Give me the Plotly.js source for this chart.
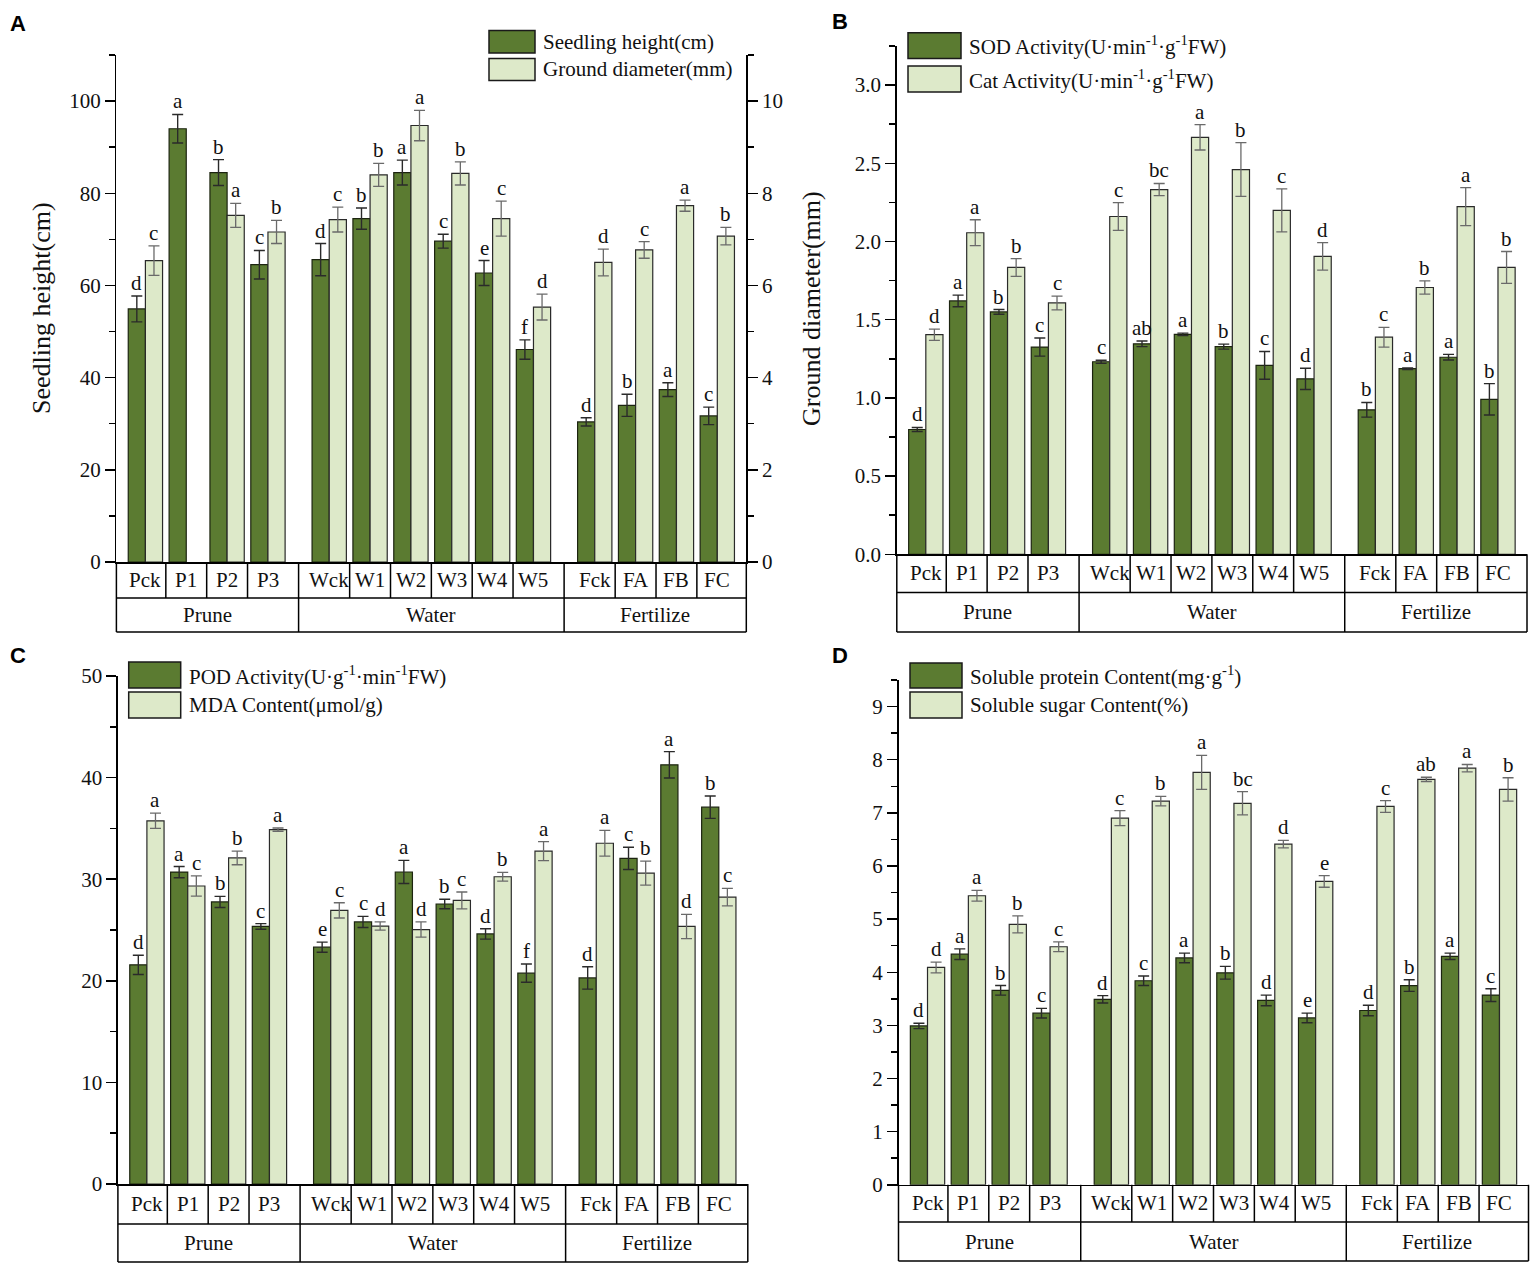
<!DOCTYPE html>
<html><head><meta charset="utf-8">
<script src="https://cdn.plot.ly/plotly-3.0.1.min.js"></script>
<style>body{margin:0;background:#fff}#chart{width:1535px;height:1267px}</style>
</head><body><div id="chart"></div>
<script>
const W = 1535, H = 1267;

// ---------- data ----------
const categories = ['Pck','P1','P2','P3','Wck','W1','W2','W3','W4','W5','Fck','FA','FB','FC'];
const groupNames = ['Prune','Water','Fertilize'];
const groupOf = [0,0,0,0,1,1,1,1,1,1,2,2,2,2];

// Panel A
const heightVals = [54.9,94.0,84.5,64.5,65.6,74.5,84.5,69.6,62.7,46.1,30.4,34.0,37.4,31.7];
const heightErr  = [2.8,3.1,2.8,3.1,3.5,2.3,2.7,1.5,2.7,2.1,0.9,2.4,1.5,1.9];
const heightSig  = ['d','a','b','c','d','b','a','c','e','f','d','b','a','c'];
const diamVals   = [6.54,null,7.52,7.16,7.43,8.40,9.47,8.43,7.45,5.53,6.50,6.77,7.73,7.07];
const diamErr    = [0.32,null,0.26,0.25,0.27,0.25,0.33,0.25,0.38,0.28,0.29,0.18,0.12,0.19];
const diamSig    = ['c','','a','b','c','b','a','b','c','d','d','c','a','b'];

// Panel B
const sodVals = [0.798,1.620,1.550,1.325,1.231,1.346,1.406,1.328,1.208,1.122,0.924,1.187,1.260,0.991];
const sodErr  = [0.013,0.037,0.015,0.058,0.010,0.018,0.008,0.016,0.089,0.068,0.047,0.005,0.018,0.100];
const sodSig  = ['d','a','b','c','c','ab','a','b','c','d','b','a','a','b'];
const catVals = [1.404,2.056,1.834,1.607,2.160,2.332,2.666,2.460,2.199,1.905,1.388,1.706,2.223,1.834];
const catErr  = [0.036,0.083,0.057,0.044,0.089,0.039,0.081,0.172,0.138,0.088,0.063,0.042,0.122,0.102];
const catSig  = ['d','a','b','c','c','bc','a','b','c','d','c','b','a','b'];

// Panel C
const podVals = [21.57,30.70,27.76,25.35,23.31,25.79,30.71,27.56,24.61,20.75,20.28,32.05,41.26,37.09];
const podErr  = [0.95,0.55,0.55,0.28,0.50,0.55,1.14,0.47,0.51,0.90,1.10,1.10,1.30,1.10];
const podSig  = ['d','a','b','c','e','c','a','b','d','f','d','c','a','b'];
const mdaVals = [35.75,29.33,32.09,34.88,26.93,25.39,25.04,27.91,30.24,32.76,33.54,30.59,25.35,28.23];
const mdaErr  = [0.75,1.00,0.67,0.16,0.75,0.40,0.75,0.83,0.43,0.94,1.26,1.18,1.19,0.86];
const mdaSig  = ['a','c','b','a','c','d','d','c','b','a','a','b','d','c'];

// Panel D
const proteinVals = [2.99,4.34,3.66,3.23,3.49,3.84,4.27,3.99,3.47,3.14,3.28,3.75,4.30,3.57];
const proteinErr  = [0.05,0.10,0.09,0.09,0.07,0.09,0.09,0.12,0.10,0.09,0.10,0.11,0.06,0.12];
const proteinSig  = ['d','a','b','c','d','c','a','b','d','e','d','b','a','c'];
const sugarVals = [4.09,5.44,4.90,4.48,6.90,7.22,7.76,7.18,6.41,5.71,7.12,7.63,7.84,7.44];
const sugarErr  = [0.10,0.10,0.16,0.09,0.14,0.09,0.32,0.22,0.07,0.11,0.11,0.04,0.07,0.22];
const sugarSig  = ['d','a','b','c','c','b','a','bc','d','e','c','ab','a','b'];

// ---------- style ----------
const DARK = '#5b7b31', LIGHT = '#dde9c9';
const SERIF = 'Liberation Serif, Times New Roman, serif';
const SANS = 'Liberation Sans, Arial, sans-serif';
const px = v => v / W;
const py = v => 1 - v / H;

// x positions derived from category order and group membership (extra half gap between groups)
const xpos = categories.map((c, i) => i + 0.5 * groupOf[i]);
const XR = [-0.71, 14.71];

const panels = [
  { label:'A', lx:18, ly:23, xa:'x', ya:'y', ya2:'y2', L:116.4, R:746.3, T:55, B:562, r1:598, r2:632,
    range:[0,110], dtick:20, minor:10, fmt:'', range2:[0,11], dtick2:2, minor2:1,
    ytitle:'Seedling height(cm)', tx:41, ty:308,
    dark:heightVals, darkErr:heightErr, darkSig:heightSig,
    light:diamVals, lightErr:diamErr, lightSig:diamSig,
    leg:{x0:489,x1:535, y:[[30.6,53],[58.4,80.4]], tx:541},
    names:['Seedling height(cm)','Ground diameter(mm)'] },
  { label:'B', lx:840, ly:22, xa:'x2', ya:'y3', L:896.8, R:1527, T:46, B:554.3, r1:592.6, r2:632,
    range:[0,3.25], dtick:0.5, minor:0.25, fmt:'.1f',
    ytitle:'Ground diameter(mm)', tx:812, ty:309,
    dark:sodVals, darkErr:sodErr, darkSig:sodSig,
    light:catVals, lightErr:catErr, lightSig:catSig,
    leg:{x0:908,x1:961, y:[[32.7,58.4],[66,92]], tx:967},
    names:['SOD Activity(U·min<sup>-1</sup>·g<sup>-1</sup>FW)','Cat Activity(U·min<sup>-1</sup>·g<sup>-1</sup>FW)'] },
  { label:'C', lx:18, ly:656, xa:'x3', ya:'y4', L:117.9, R:747.8, T:676, B:1184, r1:1224, r2:1262,
    range:[0,50], dtick:10, minor:5, fmt:'',
    dark:podVals, darkErr:podErr, darkSig:podSig,
    light:mdaVals, lightErr:mdaErr, lightSig:mdaSig,
    leg:{x0:128.7,x1:180.7, y:[[662,688],[692,718]], tx:187},
    names:['POD Activity(U·g<sup>-1</sup>·min<sup>-1</sup>FW)','MDA Content(μmol/g)'] },
  { label:'D', lx:840, ly:656, xa:'x4', ya:'y5', L:898.5, R:1528.5, T:680, B:1184.8, r1:1222, r2:1261,
    range:[0,9.5], dtick:1, minor:0.5, fmt:'',
    dark:proteinVals, darkErr:proteinErr, darkSig:proteinSig,
    light:sugarVals, lightErr:sugarErr, lightSig:sugarSig,
    leg:{x0:910,x1:962, y:[[663,688],[692,718]], tx:968},
    names:['Soluble protein Content(mg·g<sup>-1</sup>)','Soluble sugar Content(%)'] }
];

const traces = [], shapes = [], annotations = [];
const layout = {
  width: W, height: H, margin:{l:0,r:0,t:0,b:0},
  paper_bgcolor:'#fff', plot_bgcolor:'rgba(0,0,0,0)',
  barmode:'overlay', showlegend:false,
  font:{family:SERIF, size:21, color:'#111'},
  shapes, annotations
};

const axName = id => id.length === 1 ? id + 'axis' : id[0] + 'axis' + id.slice(1);

function yAxisDef(domain, range, dtick, minor, fmt, extra) {
  return Object.assign({
    domain, range, dtick, tick0:0, tickformat:fmt,
    showline:true, linecolor:'#000', linewidth:1.5,
    ticks:'outside', ticklen:10, tickwidth:1.5, tickcolor:'#000',
    minor:{dtick:minor, ticks:'outside', ticklen:6, tickwidth:1.5, tickcolor:'#000'},
    showgrid:false, zeroline:false,
    tickfont:{family:SERIF, size:21, color:'#111'}, fixedrange:true
  }, extra);
}

const txt = (o) => Object.assign({showarrow:false, xanchor:'center', yanchor:'middle',
  font:{family:SERIF, size:21, color:'#111'}}, o);

panels.forEach(p => {
  const xdom = [px(p.L), px(p.R)];
  const ydom = [py(p.B), py(p.T)];
  layout[axName(p.xa)] = {
    domain: xdom, range: XR, anchor: p.ya, showline:true, linecolor:'#000', linewidth:1.5,
    ticks:'', showticklabels:false, showgrid:false, zeroline:false, fixedrange:true
  };
  layout[axName(p.ya)] = yAxisDef(ydom, p.range, p.dtick, p.minor, p.fmt, {anchor:p.xa});
  if (p.ya2) {
    layout[axName(p.ya2)] = yAxisDef(ydom, p.range2, p.dtick2, p.minor2, '',
      {anchor:p.xa, overlaying:p.ya, side:'right'});
  }
  const lightAxis = p.ya2 || p.ya;

  traces.push({
    type:'bar', x:xpos, y:p.dark, xaxis:p.xa, yaxis:p.ya, offset:-0.42, width:0.42,
    marker:{color:DARK, line:{color:'#1c2410', width:1.2}},
    error_y:{type:'data', array:p.darkErr, visible:true, color:'#2a2a2a', thickness:1.4, width:5.5},
    hoverinfo:'skip'
  });
  traces.push({
    type:'bar', x:xpos, y:p.light, xaxis:p.xa, yaxis:lightAxis, offset:0, width:0.42,
    marker:{color:LIGHT, line:{color:'#2a2a2a', width:1.2}},
    error_y:{type:'data', array:p.lightErr, visible:true, color:'#6a6a6a', thickness:1.3, width:5.5},
    hoverinfo:'skip'
  });

  // significance letters
  xpos.forEach((x, i) => {
    if (p.dark[i] != null && p.darkSig[i]) {
      annotations.push(txt({xref:p.xa, yref:p.ya, x:x-0.21, y:p.dark[i]+p.darkErr[i], text:p.darkSig[i],
        yanchor:'bottom', yshift:-1}));
    }
    if (p.light[i] != null && p.lightSig[i]) {
      annotations.push(txt({xref:p.xa, yref:lightAxis, x:x+0.21, y:p.light[i]+p.lightErr[i], text:p.lightSig[i],
        yanchor:'bottom', yshift:-1}));
    }
  });

  // category table
  const line = {color:'#000', width:1.5};
  [p.r1, p.r2].forEach(yy => shapes.push({type:'line', xref:'paper', yref:'paper',
    x0:px(p.L), x1:px(p.R), y0:py(yy), y1:py(yy), line}));
  [p.L, p.R].forEach(xx => shapes.push({type:'line', xref:'paper', yref:'paper',
    x0:px(xx), x1:px(xx), y0:py(p.B), y1:py(p.r2), line}));
  for (let i = 0; i < xpos.length - 1; i++) {
    const b = (xpos[i] + xpos[i+1]) / 2;
    const groupEdge = groupOf[i] !== groupOf[i+1];
    shapes.push({type:'line', xref:p.xa, yref:'paper', x0:b, x1:b,
      y0:py(p.B), y1:py(groupEdge ? p.r2 : p.r1), line});
  }
  categories.forEach((c, i) => annotations.push(txt({xref:p.xa, yref:'paper', x:xpos[i],
    y:py((p.B+p.r1)/2), text:c})));
  groupNames.forEach((g, gi) => {
    const idx = groupOf.map((v, i) => v === gi ? i : -1).filter(i => i >= 0);
    const first = idx[0], last = idx[idx.length-1];
    const lo = first === 0 ? XR[0] : (xpos[first] + xpos[first-1]) / 2;
    const hi = last === xpos.length-1 ? XR[1] : (xpos[last] + xpos[last+1]) / 2;
    annotations.push(txt({xref:p.xa, yref:'paper', x:(lo+hi)/2, y:py((p.r1+p.r2)/2), text:g}));
  });

  if (p.ytitle) {
    annotations.push(txt({xref:'paper', yref:'paper', x:px(p.tx), y:py(p.ty), text:p.ytitle, textangle:-90,
      font:{family:SERIF, size:26, color:'#111'}}));
  }
  annotations.push(txt({xref:'paper', yref:'paper', x:px(p.lx), y:py(p.ly), text:'<b>'+p.label+'</b>',
    font:{family:SANS, size:22, color:'#000'}}));

  const fills = [DARK, LIGHT];
  p.leg.y.forEach((yy, k) => {
    shapes.push({type:'rect', xref:'paper', yref:'paper', x0:px(p.leg.x0), x1:px(p.leg.x1),
      y0:py(yy[1]), y1:py(yy[0]), fillcolor:fills[k], line:{color:'#1a1a1a', width:1.5}});
    annotations.push(txt({xref:'paper', yref:'paper', x:px(p.leg.tx), y:py((yy[0]+yy[1])/2), xanchor:'left',
      text:p.names[k]}));
  });
});

Plotly.newPlot('chart', traces, layout, {staticPlot:true, displayModeBar:false});
</script>
</body></html>
